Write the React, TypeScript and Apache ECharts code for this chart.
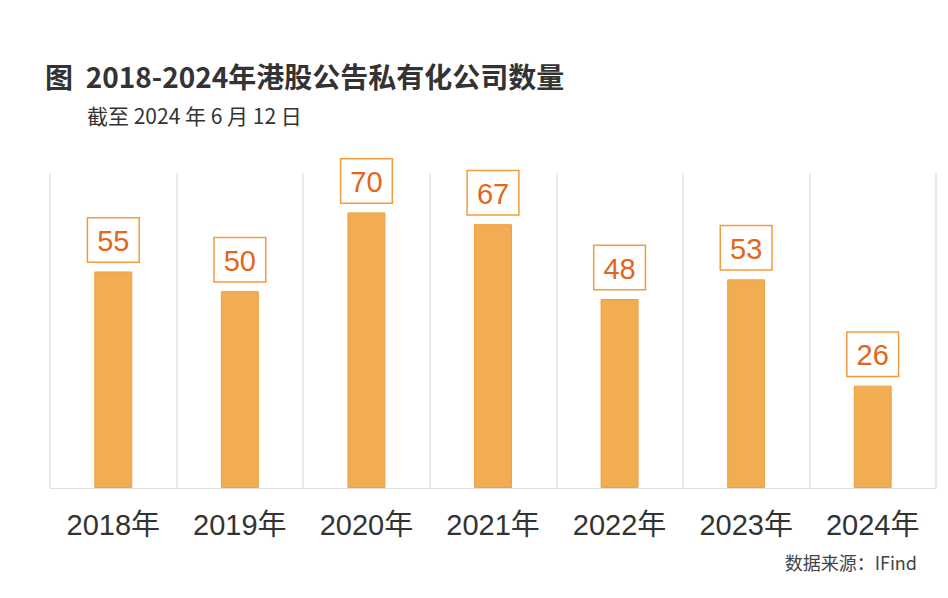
import React, { useEffect, useRef } from "react";
import * as echarts from "echarts";

const categories = ["2018年", "2019年", "2020年", "2021年", "2022年", "2023年", "2024年"];
const counts = [55, 50, 70, 67, 48, 53, 26];
const titleText = "图  2018-2024年港股公告私有化公司数量";
const subtitleText = "截至 2024 年 6 月 12 日";
const sourceText = "数据来源：IFind";

export default function App() {
  const ref = useRef<HTMLDivElement>(null);
  useEffect(() => {
    const chart = echarts.init(ref.current!, null, { renderer: "svg" });
    chart.setOption({
      animation: false,
      backgroundColor: "#ffffff",
      title: [
        {
          text: titleText,
          left: 32,
          top: 49,
          textStyle: { fontSize: 28, fontWeight: "bold", color: "#333333", fontFamily: "Noto Sans CJK SC" },
        },
        {
          text: subtitleText,
          left: 74,
          top: 91,
          textStyle: { fontSize: 21, fontWeight: "normal", color: "#333333", fontFamily: "Noto Sans CJK SC" },
        },
        {
          text: sourceText,
          right: 18,
          top: 540,
          textStyle: { fontSize: 18, fontWeight: "normal", color: "#444444", fontFamily: "Noto Sans CJK SC" },
        },
      ],
      grid: { left: 42, right: 4, top: 165, bottom: 102 },
      xAxis: {
        type: "category",
        data: categories,
        axisLine: { show: true, lineStyle: { color: "#e0e0e0", width: 1 } },
        axisTick: { show: false },
        splitLine: { show: true, lineStyle: { color: "#e3e3e3", width: 1.5 } },
        axisLabel: {
          fontSize: 29,
          color: "#333333",
          margin: 22,
          fontFamily: "Liberation Sans, Noto Sans CJK SC",
        },
      },
      yAxis: {
        type: "value",
        min: 0,
        max: 80,
        show: false,
        splitLine: { show: false },
      },
      series: [
        {
          type: "bar",
          data: counts,
          barWidth: "30%",
          itemStyle: { color: "#F2AC52", borderColor: "#EFA040", borderWidth: 1 },
          label: {
            show: true,
            position: "top",
            distance: 10,
            fontSize: 29,
            color: "#E2661C",
            fontFamily: "Liberation Sans",
            backgroundColor: "#ffffff",
            borderColor: "#F39B3C",
            borderWidth: 1.5,
            padding: [8, 9, 6, 9],
          },
        },
      ],
    });
    return () => chart.dispose();
  }, []);
  return <div ref={ref} style={{ width: 932, height: 582 }} />;
}
